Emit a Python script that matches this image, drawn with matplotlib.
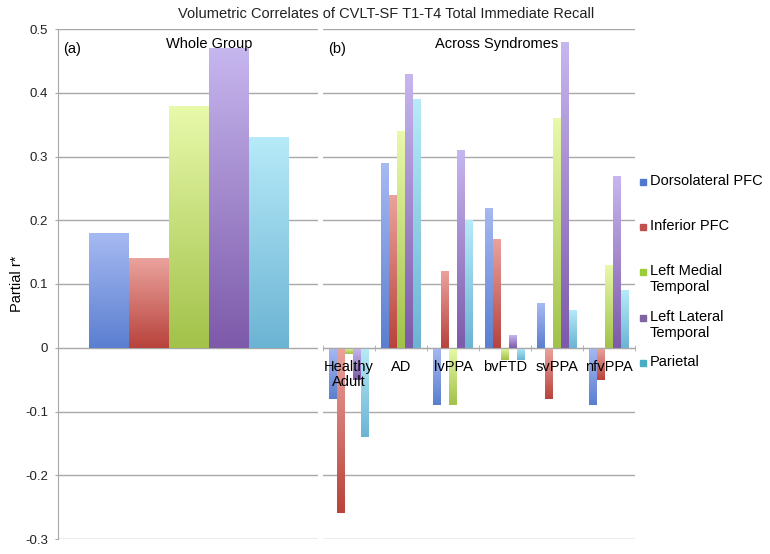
import matplotlib
matplotlib.use("Agg")
import matplotlib.pyplot as plt
import numpy as np
from matplotlib.colors import LinearSegmentedColormap
from matplotlib.lines import Line2D

plt.rcParams['font.family'] = ['Liberation Sans', 'DejaVu Sans']

regions = ["Dorsolateral PFC", "Inferior PFC", "Left Medial\nTemporal",
           "Left Lateral\nTemporal", "Parietal"]
whole_group = [0.18, 0.14, 0.38, 0.47, 0.33]

syndromes = ["Healthy\nAdult", "AD", "lvPPA", "bvFTD", "svPPA", "nfvPPA"]
dlpfc = [-0.08, 0.29, -0.09, 0.22, 0.07, -0.09]
infpfc = [-0.26, 0.24, 0.12, 0.17, -0.08, -0.05]
lmt = [-0.01, 0.34, -0.09, -0.02, 0.36, 0.13]
llt = [-0.05, 0.43, 0.31, 0.02, 0.48, 0.27]
parietal = [-0.14, 0.39, 0.20, -0.02, 0.06, 0.09]
syndrome_series = [dlpfc, infpfc, lmt, llt, parietal]

yticks = [-0.3, -0.2, -0.1, 0, 0.1, 0.2, 0.3, 0.4, 0.5]
ytick_labels = ["-0.3", "-0.2", "-0.1", "0", "0.1", "0.2", "0.3", "0.4", "0.5"]

title = "Volumetric Correlates of CVLT-SF T1-T4 Total Immediate Recall"

base_colors = ["#5b7fd0", "#b8433c", "#a2c24a", "#7d5aaa", "#6cb4d4"]
light_colors = ["#a6b9f2", "#eaa29c", "#e8f9aa", "#c6b6ee", "#b6eaf8"]
legend_colors = ["#4f7ad0", "#c0504d", "#9bcc3a", "#8064a2", "#4bacc6"]

grid_c = "#a8a8a8"
FS = 10.5

W, H = 770, 554
fig = plt.figure(figsize=(W / 100, H / 100), dpi=100)

def fx(px):
    return px / W

def fy(py):
    return 1 - py / H

top_px, bot_px = 29, 539
ax1 = fig.add_axes([fx(58), fy(bot_px), fx(318 - 58), (bot_px - top_px) / H])
ax2 = fig.add_axes([fx(323), fy(bot_px), fx(635 - 323), (bot_px - top_px) / H])


def grad_bars(ax, xs, heights, width, ci):
    cmap = LinearSegmentedColormap.from_list("g", [base_colors[ci], light_colors[ci]])
    grad = np.linspace(0, 1, 64).reshape(-1, 1)
    bars = ax.bar(xs, heights, width=width, color="none", edgecolor="none", zorder=2)
    for b in bars:
        x0 = b.get_x()
        w = b.get_width()
        y0 = min(b.get_y(), b.get_y() + b.get_height())
        y1 = max(b.get_y(), b.get_y() + b.get_height())
        im = ax.imshow(grad, cmap=cmap, origin="lower", aspect="auto",
                       extent=[x0, x0 + w, y0, y1], zorder=2, interpolation="bilinear")
        im.set_clip_path(b)
    return bars


for ax in (ax1, ax2):
    ax.set_ylim(-0.3, 0.5)
    ax.set_yticks(yticks)
    for v in yticks:
        ax.axhline(v, color=grid_c, lw=1.0, zorder=1)
    for s in ax.spines.values():
        s.set_visible(False)
    ax.patch.set_alpha(0)

# Left panel
ax1.set_xlim(-1.275, 5.225)
for i, v in enumerate(whole_group):
    grad_bars(ax1, [i], [v], 1.0, i)
ax1.spines['left'].set_visible(True)
ax1.spines['left'].set_color(grid_c)
ax1.set_yticklabels(ytick_labels, fontsize=9.5, color="#222222")
ax1.tick_params(axis='y', length=2.5, color=grid_c, pad=4.5)
ax1.set_xticks([])
ax1.set_ylabel("Partial r*", fontsize=FS, labelpad=1)
ax1.text(0.018, 0.975, "(a)", transform=ax1.transAxes, fontsize=FS, va="top", ha="left")
ax1.text(0.58, 0.985, "Whole Group", transform=ax1.transAxes, fontsize=FS, va="top", ha="center")

# Right panel
n_cat = len(syndromes)
bw = (40 / 52) / 5
ax2.set_xlim(-0.5, n_cat - 0.5)
xc = np.arange(n_cat)
for i, series in enumerate(syndrome_series):
    grad_bars(ax2, xc + (i - 2) * bw, series, bw, i)
ax2.set_yticks(yticks)
ax2.tick_params(axis='y', left=False, labelleft=False)
ax2.spines['bottom'].set_visible(True)
ax2.spines['bottom'].set_position(('data', 0))
ax2.spines['bottom'].set_color(grid_c)
ax2.xaxis.set_zorder(3)
ax2.set_xticks(xc)
ax2.set_xticklabels(syndromes, fontsize=FS, linespacing=1.1)
ax2.tick_params(axis='x', which='major', length=0, pad=9)
ax2.set_xticks(np.arange(n_cat + 1) - 0.5, minor=True)
ax2.tick_params(axis='x', which='minor', length=5, direction='inout', color=grid_c)
ax2.text(0.015, 0.975, "(b)", transform=ax2.transAxes, fontsize=FS, va="top", ha="left")
ax2.text(0.555, 0.985, "Across Syndromes", transform=ax2.transAxes, fontsize=FS, va="top", ha="center")

fig.text(fx(386), fy(14), title, fontsize=FS, ha="center", va="center", color="#222222")

# Legend (manual layout, squares aligned to first line)
leg_y = [182, 227, 272, 318, 363]
for i, name in enumerate(regions):
    fig.add_artist(Line2D([fx(643)], [fy(leg_y[i])], marker="s", markersize=5,
                          color=legend_colors[i], linestyle="none"))
    fig.text(fx(650), fy(leg_y[i] - 8), name, fontsize=FS, ha="left", va="top",
             linespacing=1.15)

fig.savefig("out.png", dpi=100)
